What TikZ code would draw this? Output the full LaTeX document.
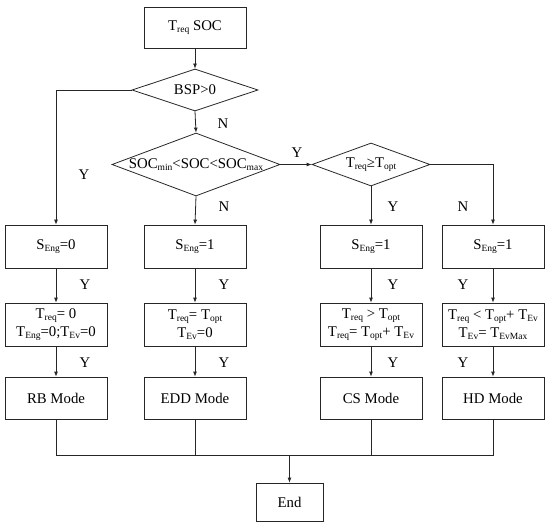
\documentclass[tikz,border=0pt]{standalone}
\usepackage{fontspec}
\setmainfont{Liberation Serif}
\usetikzlibrary{shapes.geometric,arrows.meta}
\newcommand\sbs[1]{\raisebox{-0.17em}{\fontsize{9.5}{10}\selectfont #1}}
\newcommand\fsz{\fontsize{14.8}{18}\selectfont}
\begin{document}
\begin{tikzpicture}[x=1pt,y=-1pt,line width=0.8pt,
  box/.style={draw=black!85, rectangle, minimum width=102pt, minimum height=43pt, inner sep=0pt, align=center, font=\fsz},
  dia/.style={draw=black!85, diamond, inner sep=0pt},
  arr/.style={draw=black!85, -{Latex[length=5pt,width=4pt]}},
  ln/.style={draw=black!85},
  lbl/.style={font=\fsz, inner sep=0pt}]
\useasboundingbox (0,0) rectangle (550,527);
% top
\node[box, minimum height=41pt] (top) at (195,27.5) {T\sbs{req} SOC};
% diamonds
\node[dia, minimum width=126pt, minimum height=42pt] (bsp) at (195,90) {};
\node[lbl] (bspt) at (bsp) {BSP>0};
\node[dia, minimum width=168pt, minimum height=63pt] (soc) at (196,164.5) {};
\node[lbl] (soct) at (soc) {SOC\sbs{min}<SOC<SOC\sbs{max}};
\node[dia, minimum width=118pt, minimum height=43pt] (treq) at (371,164.5) {};
\node[lbl] (treqt) at (treq) {T\sbs{req}≥T\sbs{opt}};
% row 1
\node[box] (r1a) at (56,246.5) {S\sbs{Eng}=0};
\node[box] (r1b) at (195,246.5) {S\sbs{Eng}=1};
\node[box] (r1c) at (371,246.5) {S\sbs{Eng}=1};
\node[box] (r1d) at (493,246.5) {S\sbs{Eng}=1};
% row 2
\node[box] (r2a) at (56,324.5) {T\sbs{req}= 0\\T\sbs{Eng}=0;T\sbs{Ev}=0};
\node[box] (r2b) at (195,324.5) {T\sbs{req}= T\sbs{opt}\\T\sbs{Ev}=0};
\node[box] (r2c) at (371,324.5) {T\sbs{req} > T\sbs{opt}\\T\sbs{req}= T\sbs{opt}+ T\sbs{Ev}};
\node[box] (r2d) at (493,324.5) {T\sbs{req} < T\sbs{opt}+ T\sbs{Ev}\\T\sbs{Ev}= T\sbs{EvMax}};
% row 3
\node[box, minimum height=42pt] (r3a) at (56,398) {RB Mode};
\node[box, minimum height=42pt] (r3b) at (195,398) {EDD Mode};
\node[box, minimum height=42pt] (r3c) at (371,398) {CS Mode};
\node[box, minimum height=42pt] (r3d) at (493,398) {HD Mode};
% end
\node[box, minimum width=67pt, minimum height=38pt] (end) at (289.5,502) {End};
\coordinate (j) at (289.5,455);
% connectors
\draw[arr] (top.south) -- (bsp.north);
\draw[arr] (bsp.west) -| (r1a.north);
\draw[arr] (bsp.south) -- (soc.north);
\draw[arr] (soc.east) -- (treq.west);
\draw[arr] (treq.east) -| (r1d.north);
\draw[arr] (soc.south) -- (r1b.north);
\draw[arr] (treq.south) -- (r1c.north);
\foreach \c in {a,b,c,d}{
  \draw[arr] (r1\c.south) -- (r2\c.north);
  \draw[arr] (r2\c.south) -- (r3\c.north);
}
\draw[ln] (r3a.south) |- (j);
\draw[ln] (r3d.south) |- (j);
\draw[ln] (r3b.south) -- (r3b.south |- j);
\draw[ln] (r3c.south) -- (r3c.south |- j);
\draw[arr] (j) -- (end.north);
% labels
\node[lbl] (l1) at (223,124) {N};
\node[lbl] (l2) at (297,153) {Y};
\node[lbl] (l3) at (84,175) {Y};
\node[lbl] (l4) at (224,207) {N};
\node[lbl] (l5) at (393,207) {Y};
\node[lbl] (l6) at (463,207) {N};
\node[lbl] (l7) at (85,285) {Y};
\node[lbl] (l8) at (224,285) {Y};
\node[lbl] (l9) at (393,285) {Y};
\node[lbl] (l10) at (463,285) {Y};
\node[lbl] (l11) at (85,363) {Y};
\node[lbl] (l12) at (224,363) {Y};
\node[lbl] (l13) at (393,363) {Y};
\node[lbl] (l14) at (463,363) {Y};
\end{tikzpicture}
\end{document}
